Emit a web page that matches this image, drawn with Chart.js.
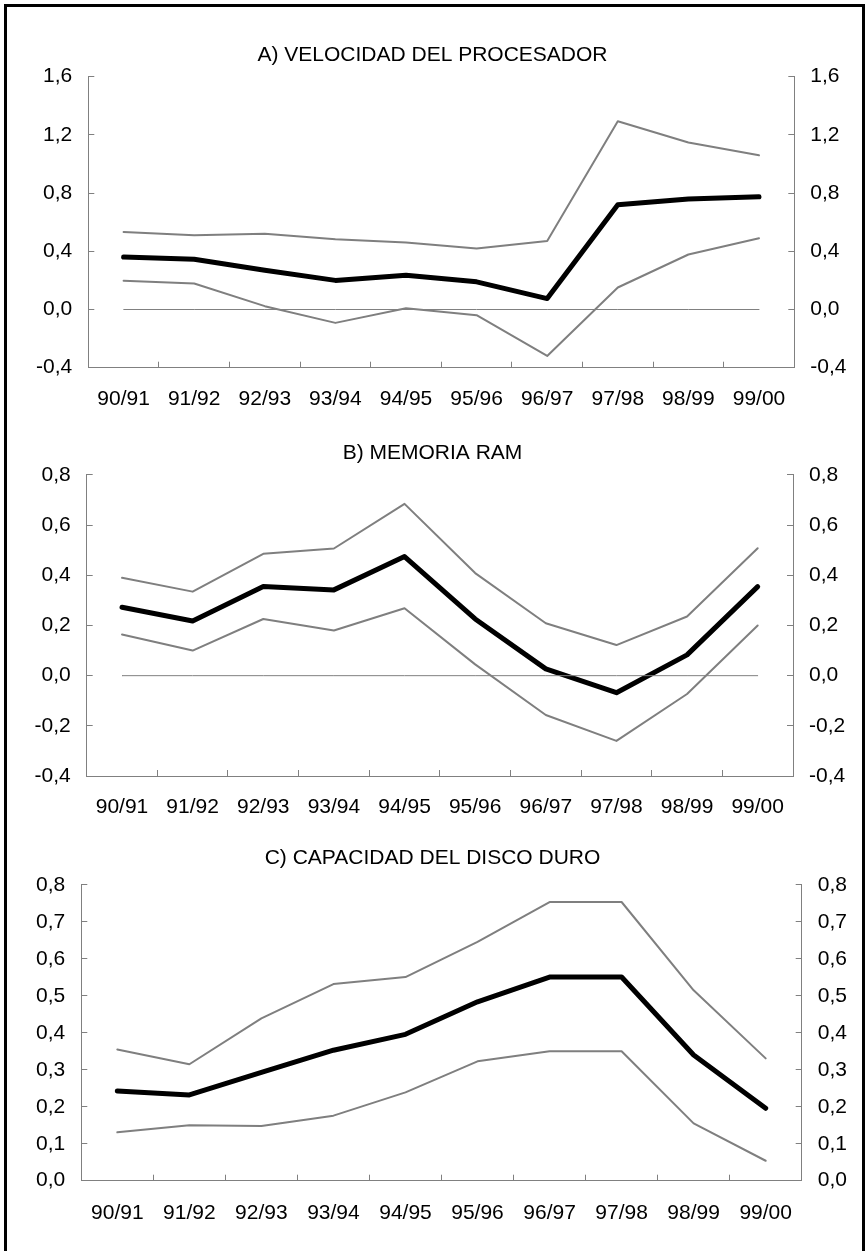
<!DOCTYPE html>
<html>
<head>
<meta charset="utf-8">
<script src="https://cdn.jsdelivr.net/npm/chart.js@4.4.1/dist/chart.umd.min.js"></script>
<style>
  html, body { margin: 0; padding: 0; background: #fff; width: 865px; height: 1251px; overflow: hidden; }
  #frame { position: absolute; left: 4px; top: 4px; width: 861px; height: 1300px; border: 3px solid #000; box-sizing: border-box; }
  canvas { position: absolute; left: 0; }
</style>
</head>
<body>
<div id="frame"></div>
<canvas id="panelA"></canvas>
<canvas id="panelB"></canvas>
<canvas id="panelC"></canvas>
<script>
// Campaigns shown on the horizontal axis
const categories = ['90/91', '91/92', '92/93', '93/94', '94/95', '95/96', '96/97', '97/98', '98/99', '99/00'];

// A) processor speed: estimate and confidence band
const velCentral = [0.36, 0.345, 0.27, 0.20, 0.235, 0.19, 0.075, 0.72, 0.76, 0.775];
const velUpper   = [0.533, 0.51, 0.52, 0.483, 0.46, 0.42, 0.47, 1.294, 1.148, 1.06];
const velLower   = [0.197, 0.179, 0.023, -0.092, 0.009, -0.039, -0.319, 0.151, 0.378, 0.49];

// B) RAM memory
const ramCentral = [0.273, 0.218, 0.355, 0.342, 0.475, 0.226, 0.027, -0.068, 0.083, 0.355];
const ramUpper   = [0.39, 0.335, 0.486, 0.507, 0.685, 0.409, 0.209, 0.122, 0.236, 0.508];
const ramLower   = [0.164, 0.10, 0.226, 0.18, 0.269, 0.045, -0.157, -0.26, -0.073, 0.2];

// C) hard disk capacity
const diskCentral = [0.243, 0.232, 0.293, 0.353, 0.396, 0.484, 0.551, 0.551, 0.34, 0.196];
const diskUpper   = [0.355, 0.315, 0.439, 0.532, 0.551, 0.646, 0.754, 0.754, 0.515, 0.331];
const diskLower   = [0.131, 0.15, 0.148, 0.176, 0.239, 0.323, 0.35, 0.35, 0.155, 0.054];

// Reference line at zero
const zeroLine = [0, 0, 0, 0, 0, 0, 0, 0, 0, 0];

// Value axis ticks
const velTicks  = [-0.4, 0, 0.4, 0.8, 1.2, 1.6];
const ramTicks  = [-0.4, -0.2, 0, 0.2, 0.4, 0.6, 0.8];
const diskTicks = [0, 0.1, 0.2, 0.3, 0.4, 0.5, 0.6, 0.7, 0.8];

const titleA = 'A) VELOCIDAD DEL PROCESADOR';
const titleB = 'B) MEMORIA RAM';
const titleC = 'C) CAPACIDAD DEL DISCO DURO';

// ---- styling and layout ----
const PAGE_W = 865;
const FONT = "'Liberation Sans', Arial, sans-serif";
const FONT_SIZE = 21;
const LINE_H = FONT_SIZE * 1.2;
const TICK_LEN = -6;          // negative: tick marks point into the plot
const AXIS_GREY = '#808080';
const BAND_GREY = '#7f7f7f';

const fmt = v => Number(v).toFixed(1).replace('.', ',');

function lineSet(data, color, width) {
  return {
    data, borderColor: color, borderWidth: width, pointRadius: 0,
    fill: false, tension: 0, borderJoinStyle: 'round', borderCapStyle: 'round'
  };
}

function valueAxis(position, ticks, box) {
  return {
    type: 'linear', position,
    min: ticks[0], max: ticks[ticks.length - 1],
    afterBuildTicks: s => { s.ticks = ticks.map(v => ({ value: v })); },
    afterFit: s => { s.width = position === 'left' ? box.left : PAGE_W - box.right; },
    grid: { drawOnChartArea: false, drawTicks: true, tickLength: TICK_LEN, color: AXIS_GREY, lineWidth: 1 },
    border: { display: true, color: AXIS_GREY, width: 1 },
    ticks: {
      padding: 16 - TICK_LEN, color: '#000', autoSkip: false,
      font: { family: FONT, size: FONT_SIZE },
      callback: v => fmt(v)
    }
  };
}

function drawPanel(id, title, series, ticks, box) {
  const canvas = document.getElementById(id);
  const top = Math.floor(box.titleY - LINE_H / 2);
  const height = Math.ceil(box.plotBottom + 60 - top);
  canvas.width = PAGE_W;
  canvas.height = height;
  canvas.style.top = top + 'px';

  const titlePadTop = box.titleY - LINE_H / 2 - top;
  const titlePadBottom = box.plotTop - (box.titleY + LINE_H / 2);
  const xAxisHeight = top + height - box.plotBottom;

  new Chart(canvas, {
    type: 'line',
    data: { labels: categories, datasets: series },
    options: {
      responsive: false, animation: false, devicePixelRatio: 1,
      layout: { padding: 0 },
      plugins: {
        legend: { display: false }, tooltip: { enabled: false },
        title: {
          display: true, text: title, color: '#000',
          font: { family: FONT, size: FONT_SIZE, weight: 'normal', lineHeight: 1.2 },
          padding: { top: titlePadTop, bottom: titlePadBottom }
        }
      },
      scales: {
        x: {
          type: 'category', offset: true,
          afterFit: s => { s.height = xAxisHeight; },
          grid: { offset: true, drawOnChartArea: false, drawTicks: true, tickLength: TICK_LEN, color: AXIS_GREY, lineWidth: 1 },
          border: { display: true, color: AXIS_GREY, width: 1 },
          ticks: {
            padding: box.labelY - box.plotBottom - LINE_H / 2 - TICK_LEN,
            color: '#000', maxRotation: 0, autoSkip: false,
            font: { family: FONT, size: FONT_SIZE }
          }
        },
        y: valueAxis('left', ticks, box),
        yR: valueAxis('right', ticks, box)
      }
    }
  });
}

drawPanel('panelA', titleA, [
  lineSet(zeroLine, AXIS_GREY, 1),
  lineSet(velUpper, BAND_GREY, 2),
  lineSet(velLower, BAND_GREY, 2),
  lineSet(velCentral, '#000', 5)
], velTicks, { titleY: 55, plotTop: 76.7, plotBottom: 367.7, left: 88.3, right: 794.3, labelY: 399.3 });

drawPanel('panelB', titleB, [
  lineSet(zeroLine, AXIS_GREY, 1),
  lineSet(ramUpper, BAND_GREY, 2),
  lineSet(ramLower, BAND_GREY, 2),
  lineSet(ramCentral, '#000', 5)
], ramTicks, { titleY: 453, plotTop: 475, plotBottom: 776, left: 86.7, right: 793, labelY: 807 });

drawPanel('panelC', titleC, [
  lineSet(diskUpper, BAND_GREY, 2),
  lineSet(diskLower, BAND_GREY, 2),
  lineSet(diskCentral, '#000', 5)
], diskTicks, { titleY: 858, plotTop: 885, plotBottom: 1180.7, left: 81.3, right: 801.7, labelY: 1213 });
</script>
</body>
</html>
